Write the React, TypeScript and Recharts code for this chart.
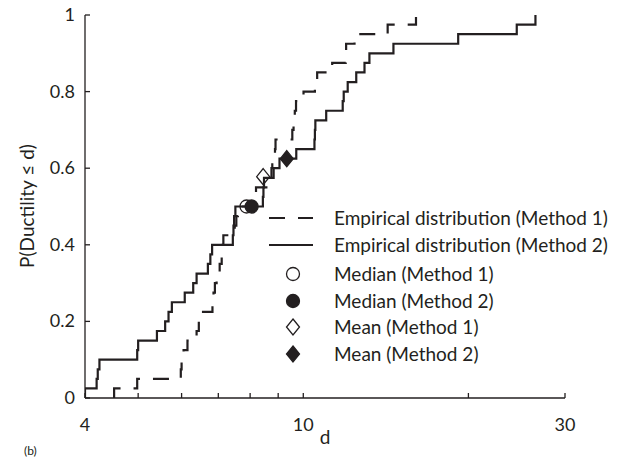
import React from "react";
import { ComposedChart, Line, Scatter, XAxis, YAxis, Label } from "recharts";

const INK = "#231f20";
const FONT = "Lato, 'Open Sans', sans-serif";

// cumulative probability levels of the 40-sample empirical CDFs
const levels = [
  0.025, 0.05, 0.075, 0.1, 0.125, 0.15, 0.175, 0.2, 0.225, 0.25,
  0.275, 0.3, 0.325, 0.35, 0.375, 0.4, 0.425, 0.45, 0.475, 0.5,
  0.525, 0.55, 0.575, 0.6, 0.625, 0.65, 0.675, 0.7, 0.725, 0.75,
  0.775, 0.8, 0.825, 0.85, 0.875, 0.9, 0.925, 0.95, 0.975, 1,
];

// sorted ductility values, method 1 (dashed) and method 2 (solid)
const method1D = [
  4.52, 4.98, 5.98, 6.0, 6.05, 6.15, 6.39, 6.45, 6.5, 6.83,
  6.86, 6.9, 6.95, 7.04, 7.1, 7.13, 7.15, 7.5, 7.55, 7.6,
  8.1, 8.2, 8.72, 8.75, 8.78, 8.88, 8.9, 9.55, 9.6, 9.65,
  9.7, 10.01, 10.5, 10.6, 11.29, 11.95, 11.97, 12.4, 14.25, 16.05,
];
const method2D = [
  4.0, 4.2, 4.22, 4.25, 4.98, 5.0, 5.41, 5.6, 5.68, 5.76,
  6.08, 6.3, 6.39, 6.7, 6.77, 6.82, 7.44, 7.46, 7.48, 7.52,
  8.44, 8.46, 8.48, 8.83, 9.05, 9.71, 10.48, 10.5, 10.52, 11.01,
  11.8, 11.85, 12.05, 12.49, 12.93, 13.2, 14.6, 19.16, 24.5, 26.5,
];

const medianD = [7.88, 8.05];
const medianP = [0.5, 0.5];
const meanD = [8.45, 9.33];
const meanP = [0.578, 0.625];

const xTicks = [4, 5, 6, 7, 8, 9, 10, 20, 30];
const xLabeled = [4, 10, 30];
const yTicks = [0, 0.2, 0.4, 0.6, 0.8, 1];

const legendItems = [
  "Empirical distribution (Method 1)",
  "Empirical distribution (Method 2)",
  "Median (Method 1)",
  "Median (Method 2)",
  "Mean (Method 1)",
  "Mean (Method 2)",
];

const ecdf = (ds: number[]) => [
  { d: ds[0], p: 0 },
  ...ds.map((d, i) => ({ d, p: levels[i] })),
];

const m1 = ecdf(method1D);
const m2 = ecdf(method2D);
const med1 = [{ d: medianD[0], p: medianP[0] }];
const med2 = [{ d: medianD[1], p: medianP[1] }];
const mean1 = [{ d: meanD[0], p: meanP[0] }];
const mean2 = [{ d: meanD[1], p: meanP[1] }];

const Circle = ({ cx, cy, filled }: any) => (
  <circle cx={cx} cy={cy} r={6.5} fill={filled ? INK : "none"} stroke={INK} strokeWidth={1.3} />
);
const Diamond = ({ cx, cy, filled }: any) => (
  <path
    d={`M${cx},${cy - 8}L${cx + 6.5},${cy}L${cx},${cy + 8}L${cx - 6.5},${cy}Z`}
    fill={filled ? INK : "none"}
    stroke={INK}
    strokeWidth={1.3}
  />
);

const XTick = ({ x, y, payload }: any) => (
  <g>
    <line x1={x} x2={x} y1={y} y2={y - 5} stroke={INK} strokeWidth={1.3} />
    {xLabeled.includes(payload.value) && (
      <text x={x} y={y + 33} textAnchor="middle" fill={INK} fontSize={18} fontFamily={FONT}>
        {payload.value}
      </text>
    )}
  </g>
);

const YTick = ({ x, y, payload }: any) => (
  <g>
    <line x1={x} x2={x + 5} y1={y} y2={y} stroke={INK} strokeWidth={1.3} />
    <text x={x - 10} y={y + 6} textAnchor="end" fill={INK} fontSize={18} fontFamily={FONT}>
      {payload.value}
    </text>
  </g>
);

const LegendBox = () => {
  const rowY = [18, 45, 74, 101, 127, 154];
  return (
    <svg width={364} height={170} style={{ position: "absolute", left: 260, top: 200 }}>
      <line x1={9} x2={53} y1={rowY[0]} y2={rowY[0]} stroke={INK} strokeWidth={2.2} strokeDasharray="16 13" />
      <line x1={9} x2={53} y1={rowY[1]} y2={rowY[1]} stroke={INK} strokeWidth={2.2} />
      <Circle cx={33} cy={rowY[2]} />
      <Circle cx={33} cy={rowY[3]} filled />
      <Diamond cx={33} cy={rowY[4]} />
      <Diamond cx={33} cy={rowY[5]} filled />
      {legendItems.map((t, i) => (
        <text key={t} x={74} y={rowY[i] + 6.5} fill={INK} fontSize={19} fontFamily={FONT}>
          {t}
        </text>
      ))}
    </svg>
  );
};

export default function App() {
  return (
    <div style={{ position: "absolute", left: 0, top: 0, width: 624, height: 460, background: "#fff", overflow: "hidden" }}>
      <ComposedChart width={624} height={460} margin={{ top: 15, right: 59, bottom: 0, left: 0 }}>
        <XAxis
          dataKey="d"
          type="number"
          scale="log"
          domain={[4, 30]}
          ticks={xTicks}
          allowDataOverflow
          height={62}
          tickSize={0}
          tickMargin={0}
          tickLine={false}
          tick={<XTick />}
          axisLine={{ stroke: INK, strokeWidth: 1.3 }}
        >
          <Label
            content={() => (
              <text x={325} y={444} textAnchor="middle" fill={INK} fontSize={19} fontFamily={FONT}>
                d
              </text>
            )}
          />
        </XAxis>
        <YAxis
          dataKey="p"
          type="number"
          domain={[0, 1]}
          ticks={yTicks}
          width={85}
          tickSize={0}
          tickMargin={0}
          tickLine={false}
          tick={<YTick />}
          axisLine={{ stroke: INK, strokeWidth: 1.3 }}
        >
          <Label
            content={() => (
              <text
                x={26}
                y={206}
                transform="rotate(-90 26 206)"
                textAnchor="middle"
                dominantBaseline="central"
                fill={INK}
                fontSize={19}
                fontFamily={FONT}
              >
                P(Ductility ≤ d)
              </text>
            )}
          />
        </YAxis>
        <Line data={m1} dataKey="p" type="stepAfter" stroke={INK} strokeWidth={2.2} strokeDasharray="16 13" dot={false} isAnimationActive={false} />
        <Line data={m2} dataKey="p" type="stepAfter" stroke={INK} strokeWidth={2.2} dot={false} isAnimationActive={false} />
        <Scatter data={med1} dataKey="p" shape={(p: any) => <Circle cx={p.cx} cy={p.cy} />} isAnimationActive={false} />
        <Scatter data={med2} dataKey="p" shape={(p: any) => <Circle cx={p.cx} cy={p.cy} filled />} isAnimationActive={false} />
        <Scatter data={mean1} dataKey="p" shape={(p: any) => <Diamond cx={p.cx} cy={p.cy} />} isAnimationActive={false} />
        <Scatter data={mean2} dataKey="p" shape={(p: any) => <Diamond cx={p.cx} cy={p.cy} filled />} isAnimationActive={false} />
      </ComposedChart>
      <LegendBox />
      <div style={{ position: "absolute", left: 24, top: 444, fontSize: 12, lineHeight: "14px", fontFamily: FONT, color: INK }}>(b)</div>
    </div>
  );
}
